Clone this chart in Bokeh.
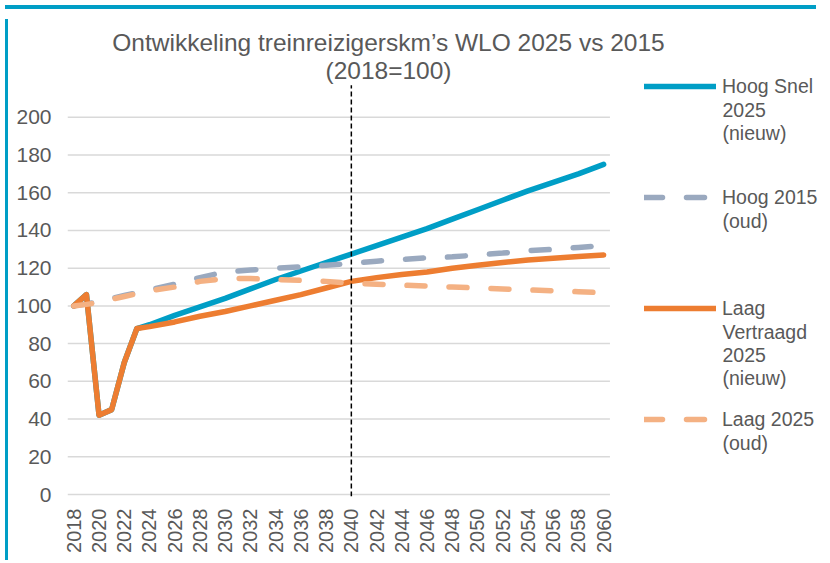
from math import pi
from bokeh.plotting import figure
from bokeh.models import Legend, LegendItem, Label, FixedTicker, Div, Range1d
from bokeh.layouts import column, row
from bokeh.embed import file_html
from bokeh.resources import INLINE

# ---------------- data ----------------
years = [2018, 2019, 2020, 2021, 2022, 2023, 2024, 2026, 2028, 2030, 2032, 2034,
         2036, 2038, 2040, 2042, 2044, 2046, 2048, 2050, 2052, 2054, 2056, 2058, 2060]
hoog_snel_2025 = [100, 106, 42, 45, 70, 88, 90, 95, 99.5, 104, 109, 114,
                  118.5, 123, 127.5, 132, 136.5, 141, 146, 151, 156, 161, 165.5, 170, 175]
hoog_2015 = [100, 101, 102.3, 104, 105.5, 107, 108.5, 111.5, 115, 118, 119, 120,
             120.7, 121.5, 122.5, 123.7, 124.6, 125.5, 126, 127, 128, 129.3, 130, 131, 132]
laag_vertraagd_2025 = [100, 106, 42, 45, 70, 88, 89, 91.5, 94.5, 97, 100, 103,
                       106, 109.5, 113, 115, 116.7, 118, 120, 121.5, 123, 124.3, 125.3, 126.2, 127]
laag_2025 = [100, 100.8, 101.8, 103.5, 105, 106.5, 108, 110, 113, 114.5, 114.5, 114,
             113.5, 113, 112, 111.5, 111, 110.5, 110, 109.5, 109, 108.5, 108, 107.5, 107]

legend_lines = [["Hoog Snel", "2025", "(nieuw)"],
                ["Hoog 2015", "(oud)"],
                ["Laag", "Vertraagd", "2025", "(nieuw)"],
                ["Laag 2025", "(oud)"]]
x_ticks = [2018, 2020, 2022, 2024, 2026, 2028, 2030, 2032, 2034, 2036, 2038,
           2040, 2042, 2044, 2046, 2048, 2050, 2052, 2054, 2056, 2058, 2060]
y_ticks = [0, 20, 40, 60, 80, 100, 120, 140, 160, 180, 200]
divider_year = 2040
divider_top = 217
title_lines = ["Ontwikkeling treinreizigerskm\u2019s WLO 2025 vs 2015", "(2018=100)"]

# ---------------- layout / style ----------------
TEAL = "#009EC6"
BLUE = "#009EC6"
GREY = "#9AA9BF"
ORANGE = "#ED7D31"
LIGHT_ORANGE = "#F4B183"
TEXT = "#595959"
GRID = "#D9D9D9"
FONT = "Liberation Sans"

X_START, X_END = 2017.5, 2060.5       # category band of the plotted years
VIEW_X_END = 2077.27                  # room on the right for the legend
Y_START, Y_END = -1.06, 254.5         # room on top for the title

FIG_W, FIG_H = 808, 541
FRAME_H = 483
p = figure(width=FIG_W, height=FIG_H,
           x_range=Range1d(X_START, VIEW_X_END), y_range=Range1d(Y_START, Y_END),
           output_backend="svg", toolbar_location=None,
           min_border_left=54, min_border_right=0, min_border_top=0,
           min_border_bottom=FIG_H - FRAME_H)
p.outline_line_color = None
p.background_fill_color = "white"
p.border_fill_color = "white"
p.xgrid.visible = False
p.ygrid.visible = False

p.yaxis.ticker = FixedTicker(ticks=y_ticks)
p.xaxis.ticker = FixedTicker(ticks=x_ticks)
for ax in (p.xaxis[0], p.yaxis[0]):
    ax.axis_line_color = None
    ax.major_tick_line_color = None
    ax.minor_tick_line_color = None
    ax.major_tick_out = 0
    ax.major_tick_in = 0
    ax.minor_tick_out = 0
    ax.major_label_text_color = TEXT
    ax.major_label_text_font = FONT
p.yaxis.major_label_text_font_size = "21px"
p.yaxis.major_label_standoff = 16
p.xaxis.major_label_text_font_size = "20px"
p.xaxis.major_label_orientation = pi / 2
p.xaxis.major_label_standoff = 12

# horizontal gridlines, limited to the plotted year band
p.segment(x0=[X_START] * len(y_ticks), y0=y_ticks, x1=[X_END] * len(y_ticks), y1=y_ticks,
          line_color=GRID, line_width=1.5)

r1 = p.line(years, hoog_snel_2025, line_color=BLUE, line_width=5.5,
            line_join="round", line_cap="round")
r2 = p.line(years, hoog_2015, line_color=GREY, line_width=5.5, line_dash="18 24",
            line_join="round", line_cap="round")
r3 = p.line(years, laag_vertraagd_2025, line_color=ORANGE, line_width=5.5,
            line_join="round", line_cap="round")
r4 = p.line(years, laag_2025, line_color=LIGHT_ORANGE, line_width=5.5, line_dash="18 24",
            line_join="round", line_cap="round")

# vertical dashed divider
p.segment(x0=[divider_year], y0=[Y_START], x1=[divider_year], y1=[divider_top],
          line_color="black", line_width=1.5, line_dash="5 3")

# legend: first line of each entry in the legend, following lines as labels
frame_bottom = FRAME_H                     # frame bottom in figure pixels (from top)
ROW_PITCH = 111
ROW_H = 24
first_row_center = 73                      # figure px from top
LINE_STEP = 23.3
LEGEND_X = 577
legend_height = 4 * ROW_H + 3 * (ROW_PITCH - ROW_H)
legend = Legend(items=[LegendItem(label=lines[0], renderers=[r]) for lines, r in
                       zip(legend_lines, [r1, r2, r3, r4])],
                location=(LEGEND_X, frame_bottom - (first_row_center - ROW_H / 2) - legend_height),
                orientation="vertical",
                label_text_font_size="19.5px", label_text_color=TEXT, label_text_font=FONT,
                glyph_width=72, glyph_height=ROW_H, label_height=ROW_H,
                label_standoff=6, spacing=ROW_PITCH - ROW_H,
                padding=0, margin=0, border_line_color=None, background_fill_alpha=0)
p.add_layout(legend, "center")

for i, lines in enumerate(legend_lines):
    row_center = first_row_center + i * ROW_PITCH
    for k, txt in enumerate(lines[1:], start=1):
        p.add_layout(Label(x=LEGEND_X + 72 + 6, y=frame_bottom - (row_center + k * LINE_STEP),
                           x_units="screen", y_units="screen", text=txt,
                           text_align="left", text_baseline="middle", text_font=FONT,
                           text_font_size="19.5px", text_color=TEXT))

# title (two centred lines)
for txt, cy in zip(title_lines, [29, 57]):
    p.add_layout(Label(x=321, y=frame_bottom - cy, x_units="screen", y_units="screen",
                       text=txt, text_align="center", text_baseline="middle",
                       text_font=FONT, text_font_size="24.5px", text_color=TEXT))

top_band = Div(width=811, height=4, styles={"background-color": TEAL})
left_band = Div(width=3, height=FIG_H, styles={"background-color": TEAL})
layout = column(top_band, row(left_band, p), spacing=0)

open("out.html", "w").write(file_html(layout, INLINE))
